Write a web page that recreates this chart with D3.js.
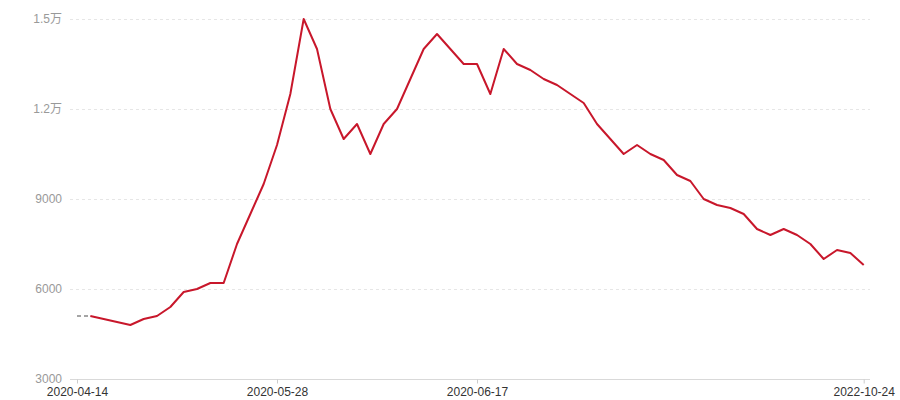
<!DOCTYPE html>
<html>
<head>
<meta charset="utf-8">
<script src="https://cdn.jsdelivr.net/npm/d3@7/dist/d3.min.js"></script>
<style>
  html, body { margin: 0; padding: 0; background: #fff; }
  svg { display: block; font-family: "Liberation Sans", "Noto Sans CJK SC", sans-serif; }
</style>
</head>
<body>
<svg id="chart" width="900" height="400"></svg>
<script>
// ---- data ----
const values = [5100, 5100, 5000, 4900, 4800, 5000, 5100, 5400, 5900, 6000,
  6200, 6200, 7500, 8500, 9500, 10800, 12500, 15000, 14000, 12000,
  11000, 11500, 10500, 11500, 12000, 13000, 14000, 14500, 14000, 13500,
  13500, 12500, 14000, 13500, 13300, 13000, 12800, 12500, 12200, 11500,
  11000, 10500, 10800, 10500, 10300, 9800, 9600, 9000, 8800, 8700,
  8500, 8000, 7800, 8000, 7800, 7500, 7000, 7300, 7200, 6800];
const categories = values.map((d, i) => i);
const xTickIndex = [0, 15, 30, 59];
const xTickLabels = ["2020-04-14", "2020-05-28", "2020-06-17", "2022-10-24"];
const yTicks = [3000, 6000, 9000, 12000, 15000];

// ---- chart ----
(function () {
const svg = d3.select("#chart");
const mLeft = 70, mRight = 870, mTop = 19, mBottom = 379;
const FONT = "\"Liberation Sans\", \"Noto Sans CJK SC\", sans-serif";

const x = d3.scalePoint().domain(categories).range([77, 863.7]);
const y = d3.scaleLinear().domain([3000, 15000]).range([mBottom, mTop]);

const fmtY = v => v >= 10000 ? (v / 10000) + "万" : String(v);

// grid
svg.append("g").selectAll("line")
  .data(yTicks.filter(t => t !== 3000))
  .join("line")
  .attr("x1", mLeft).attr("x2", mRight)
  .attr("y1", d => y(d) + 0.5).attr("y2", d => y(d) + 0.5)
  .attr("stroke", "#e6e6e6").attr("stroke-width", 1)
  .attr("stroke-dasharray", "3,3");

// y axis labels
const yAxis = d3.axisLeft(y).tickValues(yTicks).tickFormat(fmtY).tickSize(0).tickPadding(0);
const gy = svg.append("g").attr("transform", "translate(62,0)").call(yAxis);
gy.select(".domain").remove();
gy.selectAll("text").attr("fill", "#999").attr("font-size", 12)
  .attr("font-family", FONT);

// baseline
svg.append("line")
  .attr("x1", mLeft).attr("x2", mRight)
  .attr("y1", mBottom + 0.5).attr("y2", mBottom + 0.5)
  .attr("stroke", "#d9d9d9").attr("stroke-width", 1);

// x axis
const xAxis = d3.axisBottom(x).tickValues(xTickIndex)
  .tickFormat(d => xTickLabels[xTickIndex.indexOf(d)])
  .tickSize(4).tickSizeOuter(0).tickPadding(4);
const gx = svg.append("g").attr("transform", "translate(0," + (mBottom + 0.5) + ")").call(xAxis);
gx.select(".domain").remove();
gx.selectAll(".tick line").attr("stroke", "#cccccc");
gx.selectAll("text").attr("fill", "#333").attr("font-size", 12)
  .attr("font-family", FONT);

// dashed lead-in segment
const line = d3.line().x(d => x(d.i)).y(d => y(d.v));
const pts = values.map((v, i) => ({ i, v }));
svg.append("path")
  .datum(pts.slice(0, 2))
  .attr("d", line)
  .attr("fill", "none")
  .attr("stroke", "#888")
  .attr("stroke-width", 1.5)
  .attr("stroke-dasharray", "4,3");

// main line
svg.append("path")
  .datum(pts.slice(1))
  .attr("d", line)
  .attr("fill", "none")
  .attr("stroke", "#c8172b")
  .attr("stroke-width", 2)
  .attr("stroke-linejoin", "round");
})();
</script>
</body>
</html>
